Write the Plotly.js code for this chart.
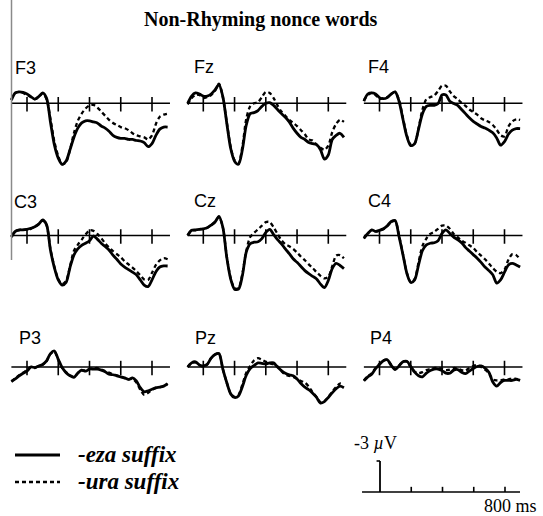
<!DOCTYPE html>
<html>
<head>
<meta charset="utf-8">
<script src="https://cdn.plot.ly/plotly-3.0.1.min.js"></script>
<style>html,body{margin:0;padding:0;background:#fff;}#chart{width:543px;height:516px;}</style>
</head>
<body>
<div id="chart"></div>
<script>
// time in ms (-100 .. 900, step 25)
const timeMs = [-100,-75,-50,-25,0,25,50,75,100,125,150,175,200,225,250,275,300,325,350,375,400,425,450,475,500,525,550,575,600,625,650,675,700,725,750,775,800,825,850,875,900];

// amplitudes in microvolts (negative plotted up)
const F3_eza = [-0.3,-1.0,-1.1,-1.05,-0.9,-0.65,-0.4,-0.65,-1.0,-0.5, 1.8,4.0,5.3,5.9,5.6,4.5,3.3,2.4,1.9,1.7, 1.7,1.8,1.9,2.2,2.4,2.7,3.1,3.3,3.4,3.4, 3.5,3.5,3.6,3.65,3.8,4.2,3.9,3.1,2.5,2.3, 2.3];
const F3_ura = [-0.4,-1.0,-1.1,-1.0,-0.8,-0.6,-0.4,-0.6,-0.95,-0.4, 1.5,3.7,5.1,5.9,5.7,4.5,2.9,1.7,1.0,0.5, 0.2,0.15,0.4,0.8,1.2,1.6,1.9,2.1,2.3,2.4, 2.6,2.9,3.1,3.2,3.3,3.5,3.1,2.0,1.3,1.1, 1.0];
const Fz_eza = [0.0,-0.7,-1.0,-0.9,-0.7,-0.7,-0.9,-1.3,-1.8,-0.65, 1.9,4.35,5.6,5.9,4.5,2.1,1.0,0.9,0.7,0.3, 0.0,-0.06,0.2,0.6,1.0,1.35,1.8,2.4,2.9,3.3, 3.5,3.8,3.9,4.0,4.5,5.4,5.0,3.5,3.1,2.9, 3.3];
const Fz_ura = [0.1,-0.5,-0.8,-0.8,-0.5,-0.6,-0.8,-1.2,-1.9,-0.6, 1.8,4.2,5.5,5.8,4.2,1.5,0.3,0.0,-0.1,-0.6, -1.1,-1.0,-0.5,0.2,0.8,1.2,1.6,1.9,2.2,2.6, 3.0,3.5,3.6,4.0,4.3,4.5,4.1,2.8,2.0,1.6, 1.8];
const F4_eza = [-0.2,-0.9,-1.0,-0.9,-0.55,-0.45,-0.55,-0.9,-1.1,-0.2, 1.55,3.2,4.1,3.9,2.5,1.0,0.3,0.2,0.2,0.03, -0.8,-0.8,-0.2,0.03,0.2,0.6,1.0,1.4,1.75,2.0, 2.25,2.4,2.6,2.85,3.35,4.05,3.7,3.0,2.6,2.45, 2.45];
const F4_ura = [-0.3,-0.8,-1.0,-0.8,-0.4,-0.5,-0.6,-0.9,-1.1,-0.3, 1.4,3.1,4.0,3.9,2.4,0.6,-0.4,-0.6,-0.75,-1.2, -1.7,-1.7,-1.15,-0.7,-0.4,-0.05,0.25,0.6,0.85,1.1, 1.45,1.65,1.8,2.1,2.55,3.1,3.2,2.25,1.75,1.55, 1.6];
const C3_eza = [0.15,-0.4,-0.55,-0.55,-0.6,-0.7,-0.85,-1.1,-1.5,-1.05, 1.4,3.1,4.3,4.8,4.55,3.1,1.9,1.3,0.95,0.75, 0.5,0.05,0.35,0.75,1.05,1.4,1.9,2.3,2.75,3.05, 3.3,3.55,3.8,4.3,4.8,4.95,4.3,3.5,3.05,2.95, 2.95];
const C3_ura = [0.1,-0.4,-0.5,-0.55,-0.6,-0.65,-0.85,-1.1,-1.45,-1.0, 1.3,3.0,4.2,4.7,4.4,3.0,1.5,0.9,0.4,-0.1, -0.5,-0.45,-0.15,0.25,0.75,1.15,1.5,1.8,2.1,2.5, 2.8,3.1,3.45,3.85,4.25,4.3,3.6,2.85,2.4,2.2, 2.3];
const Cz_eza = [0.0,-0.5,-0.55,-0.6,-0.65,-0.75,-1.0,-1.3,-1.85,-0.8, 2.1,4.2,5.2,5.2,3.9,1.6,0.8,0.65,0.6,0.3, -0.3,-0.6,-0.1,0.4,0.8,1.3,1.75,2.25,2.6,3.0, 3.4,3.7,3.95,4.2,4.7,5.05,4.35,3.2,2.7,2.9, 3.2];
const Cz_ura = [0.0,-0.5,-0.5,-0.6,-0.65,-0.75,-1.0,-1.3,-1.8,-0.8, 2.0,4.1,5.1,5.1,3.7,1.5,0.15,-0.25,-0.6,-0.95, -1.3,-1.3,-0.8,-0.15,0.45,0.85,1.05,1.3,1.65,2.05, 2.4,2.8,3.15,3.55,3.9,4.15,4.0,3.0,1.95,1.9, 2.2];
const C4_eza = [0.25,-0.2,-0.55,-0.4,-0.5,-0.65,-0.95,-1.35,-1.45,0.1, 1.85,3.65,4.55,4.3,2.85,1.45,0.9,0.75,0.7,0.5, -0.2,-0.55,-0.2,0.15,0.4,0.7,1.15,1.5,1.85,2.2, 2.6,3.05,3.4,3.8,4.6,4.3,3.55,2.85,2.7,2.85, 3.05];
const C4_ura = [0.3,-0.2,-0.5,-0.4,-0.5,-0.6,-0.9,-1.3,-1.4,0.0, 1.8,3.6,4.5,4.2,2.6,1.0,0.3,-0.15,-0.35,-0.65, -0.95,-0.95,-0.65,-0.15,0.15,0.5,0.7,0.95,1.2,1.6, 1.95,2.3,2.7,3.15,3.5,3.65,3.3,2.35,1.8,1.9, 2.3];
const P3_eza = [1.4,1.15,0.85,0.6,0.4,0.0,0.05,-0.1,-0.25,-0.6, -1.3,-1.55,-0.75,0.05,0.55,0.85,1.0,0.6,0.3,0.4, 0.2,0.2,0.2,0.3,0.45,0.7,0.75,0.85,0.95,1.05, 1.2,1.05,1.35,2.0,2.4,2.3,2.15,2.0,1.95,1.85, 1.6];
const P3_ura = [1.4,1.1,0.8,0.55,0.3,0.0,0.1,-0.1,-0.2,-0.55, -1.25,-1.5,-0.7,0.1,0.5,0.8,0.95,0.6,0.35,0.35, 0.2,0.15,0.1,0.25,0.4,0.55,0.7,0.8,0.95,1.1, 1.2,1.15,1.5,2.2,2.7,2.5,2.2,2.05,1.95,1.85, 1.65];
const Pz_eza = [0.0,-0.4,-0.5,-0.2,-0.1,-0.25,-0.85,-1.2,-1.3,0.2, 1.5,2.6,2.95,2.8,1.9,0.8,0.15,-0.15,-0.4,-0.35, -0.3,-0.4,-0.4,0.0,0.35,0.6,0.75,0.85,1.15,1.6, 1.95,2.2,2.55,2.95,3.5,3.35,2.95,2.5,2.1,1.85, 2.0];
const Pz_ura = [0.0,-0.4,-0.45,-0.2,-0.05,-0.25,-0.85,-1.2,-1.3,0.2, 1.5,2.55,2.9,2.7,1.7,0.55,-0.1,-0.65,-0.85,-0.7, -0.5,-0.35,-0.25,-0.05,0.4,0.75,0.85,0.95,1.15,1.35, 1.5,1.9,2.45,2.9,3.4,3.3,2.9,2.4,1.95,1.6, 1.75];
const P4_eza = [1.35,0.95,0.7,0.15,-0.25,-0.6,-0.7,-0.15,0.25,-0.1, -0.5,-0.55,-0.05,0.5,0.85,0.95,0.6,0.35,0.2,0.2, 0.35,0.6,0.6,0.3,0.25,0.5,0.65,0.4,0.15,-0.05, -0.1,0.1,0.5,1.45,1.85,1.5,1.3,1.3,1.3,1.2, 1.3];
const P4_ura = [1.3,0.9,0.6,0.1,-0.3,-0.65,-0.7,-0.2,0.2,-0.15, -0.55,-0.5,0.0,0.45,0.6,0.5,0.3,0.2,0.1,0.05, 0.2,0.3,0.25,0.1,0.15,0.3,0.35,0.1,-0.1,-0.2, 0.0,0.25,0.6,1.2,1.3,1.3,1.2,1.2,1.1,1.15, 1.2];

const electrodes = ["F3","Fz","F4","C3","Cz","C4","P3","Pz","P4"];
const ezaSeries = [F3_eza,Fz_eza,F4_eza,C3_eza,Cz_eza,C4_eza,P3_eza,Pz_eza,P4_eza];
const uraSeries = [F3_ura,Fz_ura,F4_ura,C3_ura,Cz_ura,C4_ura,P3_ura,Pz_ura,P4_ura];
const tickVals = [0,200,400,600,800];
const seriesNames = ["-eza suffix","-ura suffix"];
const chartTitle = "Non-Rhyming nonce words";
const scaleAmp = -3;      // µV
const scaleLabelAmp = "-3 <i>µ</i>V";
const scaleLabelTime = "800 ms";

// ---- geometry ----
const W = 543, H = 516;
const PX_PER_MS = 31.25/200;
const PX_PER_UV = 31/3;
const colX0 = [27, 203.3, 379.5];
const rowY0 = [103.3, 235.5, 367];
const labelPos = [[13,68],[192,67],[366,67],[12,202],[192,201],[366,201],[17,338],[193,338],[368,338]];

function xAxis(x0, left, right, anchor){
  return {domain:[(x0-left)/W,(x0+right)/W], range:[-left/PX_PER_MS, right/PX_PER_MS], visible:false, fixedrange:true, anchor:anchor};
}
function yAxis(y0, up, down, anchor){
  return {domain:[1-(y0+down)/H, 1-(y0-up)/H], range:[down/PX_PER_UV, -up/PX_PER_UV], visible:false, fixedrange:true, anchor:anchor};
}

const layout = {
  width: W, height: H,
  margin:{l:0,r:0,t:0,b:0},
  paper_bgcolor:'#fff', plot_bgcolor:'rgba(0,0,0,0)',
  showlegend:false,
  shapes:[], annotations:[]
};
const data = [];

for (let i=0;i<9;i++){
  const r = Math.floor(i/3), c = i%3;
  const n = i+1;
  const xs = n===1?'x':'x'+n, ys = n===1?'y':'y'+n;
  layout[n===1?'xaxis':'xaxis'+n] = xAxis(colX0[c], 25, 150, ys);
  layout[n===1?'yaxis':'yaxis'+n] = yAxis(rowY0[r], 45, 70, xs);
  data.push({x:timeMs, y:ezaSeries[i], xaxis:xs, yaxis:ys, type:'scatter', mode:'lines', name:seriesNames[0],
    line:{color:'#000', width:2.8, shape:'spline', smoothing:0.8}, hoverinfo:'skip'});
  data.push({x:timeMs, y:uraSeries[i], xaxis:xs, yaxis:ys, type:'scatter', mode:'lines', name:seriesNames[1],
    line:{color:'#000', width:2.3, dash:'4px,3px', shape:'spline', smoothing:0.8}, hoverinfo:'skip'});
  // baseline
  layout.shapes.push({type:'line', xref:xs, yref:ys, x0:-100, x1:915, y0:0, y1:0, line:{color:'#000', width:1.6}, layer:'below'});
  tickVals.forEach(tv=>{
    layout.shapes.push({type:'line', xref:xs, yref:ys, x0:tv, x1:tv, y0:-0.6, y1:0.8, line:{color:'#000', width:1.6}, layer:'below'});
  });
  layout.annotations.push({text:electrodes[i], xref:'paper', yref:'paper', x:labelPos[i][0]/W, y:1-labelPos[i][1]/H,
    xanchor:'left', yanchor:'middle', showarrow:false, font:{family:'Liberation Sans, Arial, sans-serif', size:18, color:'#000'}});
}

// scale bar subplot
layout.xaxis10 = xAxis(380, 25, 155, 'y10');
layout.yaxis10 = yAxis(492, 42, 8, 'x10');
layout.shapes.push({type:'line', xref:'x10', yref:'y10', x0:-115, x1:896, y0:0, y1:0, line:{color:'#000', width:1.6}});
tickVals.slice(1).forEach(tv=>{
  layout.shapes.push({type:'line', xref:'x10', yref:'y10', x0:tv, x1:tv, y0:0, y1:-0.5, line:{color:'#000', width:1.6}});
});
layout.shapes.push({type:'line', xref:'x10', yref:'y10', x0:0, x1:0, y0:0, y1:scaleAmp, line:{color:'#000', width:1.8}});
layout.shapes.push({type:'line', xref:'x10', yref:'y10', x0:-22, x1:0, y0:scaleAmp, y1:scaleAmp, line:{color:'#000', width:1.6}});
layout.annotations.push({text:scaleLabelAmp, xref:'paper', yref:'paper', x:352/W, y:1-443/H, xanchor:'left', yanchor:'middle', showarrow:false,
  font:{family:'Liberation Serif, Times New Roman, serif', size:18, color:'#000'}});
layout.annotations.push({text:scaleLabelTime, xref:'paper', yref:'paper', x:539/W, y:1-506/H, xanchor:'right', yanchor:'middle', showarrow:false,
  font:{family:'Liberation Serif, Times New Roman, serif', size:18, color:'#000'}});

// legend (manual)
layout.shapes.push({type:'line', xref:'paper', yref:'paper', x0:15/W, x1:60/W, y0:1-455/H, y1:1-455/H, line:{color:'#000', width:2.8}});
layout.shapes.push({type:'line', xref:'paper', yref:'paper', x0:15/W, x1:60/W, y0:1-482/H, y1:1-482/H, line:{color:'#000', width:2.3, dash:'4px,3px'}});
layout.annotations.push({text:'<b><i>'+seriesNames[0]+'</i></b>', xref:'paper', yref:'paper', x:76/W, y:1-454/H, xanchor:'left', yanchor:'middle', showarrow:false,
  font:{family:'Liberation Serif, Times New Roman, serif', size:23, color:'#000'}});
layout.annotations.push({text:'<b><i>'+seriesNames[1]+'</i></b>', xref:'paper', yref:'paper', x:76/W, y:1-481/H, xanchor:'left', yanchor:'middle', showarrow:false,
  font:{family:'Liberation Serif, Times New Roman, serif', size:23, color:'#000'}});

// title
layout.annotations.push({text:'<b>'+chartTitle+'</b>', xref:'paper', yref:'paper', x:261/W, y:1-20/H, xanchor:'center', yanchor:'middle', showarrow:false,
  font:{family:'Liberation Serif, Times New Roman, serif', size:20, color:'#000'}});

// gray frame line at the left
layout.shapes.push({type:'line', xref:'paper', yref:'paper', x0:11.5/W, x1:11.5/W, y0:1, y1:1-260/H, line:{color:'#8a8a8a', width:1.5}});

Plotly.newPlot('chart', data, layout, {staticPlot:true, displayModeBar:false});
</script>
</body>
</html>
